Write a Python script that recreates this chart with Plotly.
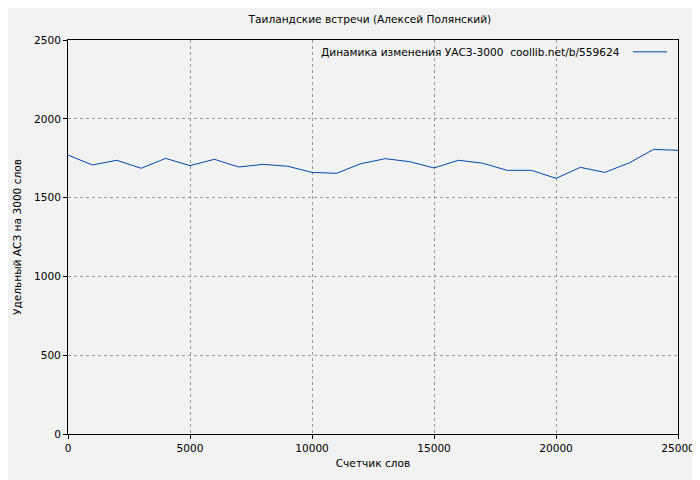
import plotly.graph_objects as go

words = [0,1000,2000,3000,4000,5000,6000,7000,8000,9000,10000,11000,12000,13000,14000,15000,16000,17000,18000,19000,20000,21000,22000,23000,24000,25000]
uasz = [1770,1707,1737,1686,1749,1703,1743,1694,1711,1699,1660,1654,1715,1747,1728,1688,1737,1718,1673,1673,1622,1692,1660,1720,1806,1800]

fig = go.Figure()
fig.add_trace(go.Scatter(x=words, y=uasz, mode="lines", line=dict(color="#0047b3", width=1), showlegend=False))
fig.add_shape(type="line", xref="paper", yref="paper", x0=0.926, x1=0.982, y0=0.97, y1=0.97, line=dict(color="#0047b3", width=1))
fig.add_annotation(xref="paper", yref="paper", x=0.908, y=0.97, xanchor="right", yanchor="middle",
                   text="Динамика изменения УАСЗ-3000  coollib.net/b/559624", showarrow=False, font=dict(size=10.6, color="#000"))

ax = dict(showline=True, linecolor="black", linewidth=1, mirror=True, ticks="outside", ticklen=4, tickcolor="black",
          showgrid=True, gridcolor="#999", griddash="dot", gridwidth=1, zeroline=False, automargin=False,
          tickfont=dict(size=10.6, color="#000"))
fig.update_xaxes(range=[0,25000], dtick=5000, tickformat="d", title=dict(text="Счетчик слов", font=dict(size=10.6), standoff=6), **ax)
fig.update_yaxes(range=[0,2500], dtick=500, tickformat="d", title=dict(text="Удельный АСЗ на 3000 слов", font=dict(size=10.6), standoff=10), **ax)
fig.update_layout(width=700, height=480, margin=dict(l=60, r=30, t=32, b=54, autoexpand=False),
                  paper_bgcolor="#f2f2f2", plot_bgcolor="#f2f2f2",
                  font=dict(family="DejaVu Sans", size=10.6, color="#000"),
                  title=dict(text="Таиландские встречи (Алексей Полянский)", x=0.517, xanchor="center", y=0.985, yanchor="top", font=dict(size=10.6)))
fig.write_html("out.html")
